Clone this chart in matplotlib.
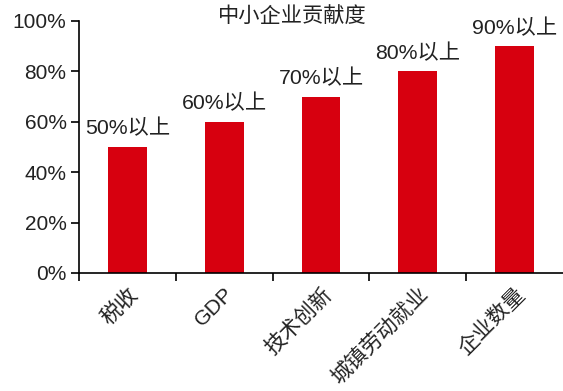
import matplotlib
matplotlib.use("Agg")
import matplotlib.pyplot as plt

plt.rcParams['font.family'] = ['Liberation Sans', 'Noto Sans CJK SC', 'DejaVu Sans']

# ── data ──────────────────────────────────────────────────────────────────────
categories = ["税收", "GDP", "技术创新", "城镇劳动就业", "企业数量"]
values     = [0.5, 0.6, 0.7, 0.8, 0.9]
labels     = ["50%以上", "60%以上", "70%以上", "80%以上", "90%以上"]
yticks     = [0, 0.2, 0.4, 0.6, 0.8, 1.0]
title      = "中小企业贡献度"

RED = "#D7000F"

fig = plt.figure(figsize=(5.63, 3.91), dpi=100)
ax = fig.add_axes([79 / 563, 1 - 273 / 391, 484 / 563, 252 / 391])

x = range(len(categories))
ax.bar(x, values, width=0.4, color=RED, zorder=2)

for xi, v, lab in zip(x, values, labels):
    ax.annotate(lab, (xi, v), xytext=(0, 6), textcoords="offset points",
                ha="center", va="bottom", fontsize=15.3, color="#222222")

ax.set_xlim(-0.5, len(categories) - 0.5)
ax.set_ylim(0, 1.0)
ax.set_yticks(yticks)
ax.set_yticklabels([f"{int(round(t * 100))}%" for t in yticks], fontsize=15, color="#222222")

# ticks between categories, labels at centres
ax.set_xticks([i - 0.5 for i in range(len(categories))])
ax.set_xticklabels([])
ax.set_xticks(list(x), minor=True)
ax.set_xticklabels(categories, minor=True, rotation=45, ha="right",
                   rotation_mode="anchor", fontsize=15.3, color="#222222")
ax.tick_params(axis="x", which="minor", length=0, pad=8)
ax.tick_params(axis="x", which="major", length=6, width=1.2, direction="out")
ax.tick_params(axis="y", length=6, width=1.2, direction="out", pad=3)

for s in ("top", "right"):
    ax.spines[s].set_visible(False)
for s in ("left", "bottom"):
    ax.spines[s].set_linewidth(1.2)
ax.spines["bottom"].set_clip_on(False)

fig.text(292 / 563, 1 - 17 / 391, title, ha="center", va="center",
         fontsize=15.3, color="#222222")

fig.savefig("out.png", dpi=100)
